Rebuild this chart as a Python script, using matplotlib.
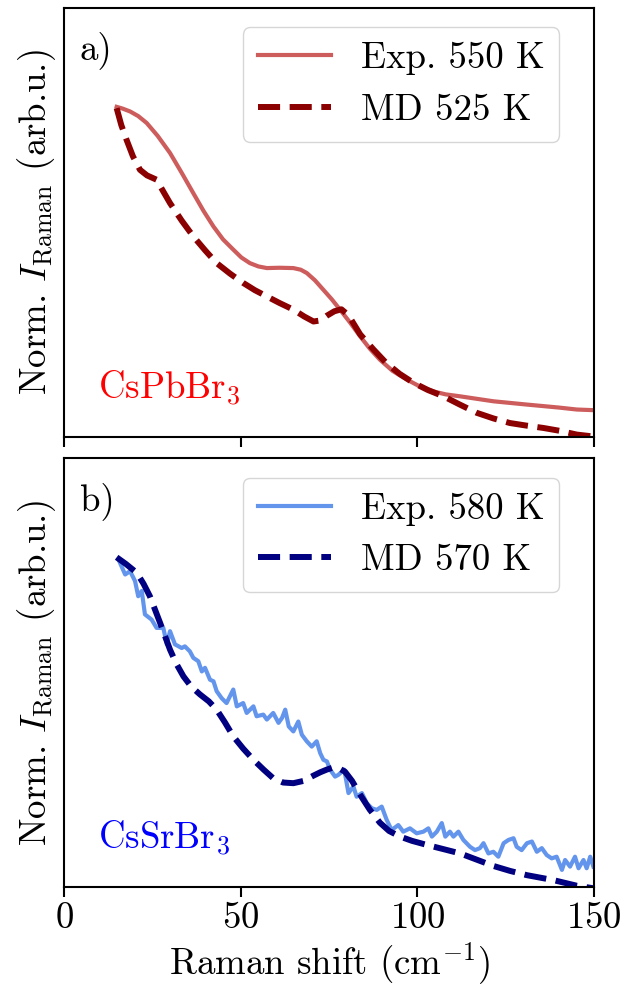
import numpy as np
import matplotlib
matplotlib.use("Agg")
import matplotlib.pyplot as plt

plt.rcParams['font.family'] = 'serif'
plt.rcParams['font.serif'] = ['cmr10']
plt.rcParams['mathtext.fontset'] = 'cm'
plt.rcParams['axes.formatter.use_mathtext'] = True
plt.rcParams['font.size'] = 26.5

# CsPbBr3 - experiment 550 K
x_pb_exp = [14.9, 16.5, 18.7, 21.0, 23.4, 26.5, 30.0, 33.3, 36.6, 39.5, 42.3, 45.0, 47.9,
            50.2, 52.6, 55.0, 57.4, 61.0, 64.9, 67.0, 68.7, 71.0, 73.4, 75.8, 78.1, 81.0,
            83.8, 86.5, 89.4, 93.0, 97.0, 100.5, 104.5, 108.0, 112.1, 121.5, 131.0, 140.0,
            145.1, 150.0]
y_pb_exp = [1.0, 0.995, 0.986, 0.972, 0.951, 0.912, 0.860, 0.800, 0.738, 0.684, 0.637, 0.598,
            0.567, 0.543, 0.526, 0.516, 0.511, 0.512, 0.511, 0.506, 0.496, 0.474, 0.445, 0.416,
            0.385, 0.345, 0.304, 0.267, 0.233, 0.199, 0.173, 0.153, 0.137, 0.128, 0.122, 0.107,
            0.097, 0.088, 0.082, 0.080]

# CsPbBr3 - MD 525 K
x_pb_md = [14.9, 16.2, 17.7, 19.5, 21.5, 23.5, 26.2, 28.0, 30.0, 33.3, 36.6, 40.0, 43.2,
           47.0, 50.7, 54.0, 57.4, 61.0, 64.9, 68.0, 70.6, 72.5, 74.3, 76.5, 78.5, 80.5,
           83.8, 87.5, 91.2, 95.0, 98.9, 103.0, 107.4, 112.0, 116.8, 121.5, 126.2, 131.0,
           135.7, 140.5, 145.1, 150.0]
y_pb_md = [0.996, 0.945, 0.900, 0.850, 0.809, 0.792, 0.779, 0.745, 0.708, 0.655, 0.607, 0.564,
           0.526, 0.494, 0.466, 0.444, 0.425, 0.405, 0.385, 0.364, 0.349, 0.352, 0.366, 0.380,
           0.386, 0.368, 0.310, 0.265, 0.223, 0.190, 0.163, 0.141, 0.122, 0.097, 0.072, 0.055,
           0.041, 0.033, 0.026, 0.017, 0.006, 0.0]

# CsSrBr3 - experiment 580 K
x_sr_exp = [15.4, 17.3, 18.7, 20.1, 21.0, 22.0, 22.9, 24.8, 26.2, 28.1, 29.1, 30.0, 31.4,
            33.3, 34.2, 35.6, 36.6, 38.0, 39.0, 39.9, 41.3, 42.3, 43.2, 44.6, 46.0, 47.9,
            48.9, 50.7, 51.7, 53.6, 54.5, 56.4, 57.4, 59.2, 60.7, 61.7, 62.6, 63.6, 64.9,
            66.3, 67.3, 68.7, 70.1, 71.5, 72.5, 73.4, 74.4, 75.3, 76.7, 77.6, 79.3, 80.5,
            81.9, 82.8, 84.3, 85.7, 87.1, 88.5, 89.9, 91.3, 92.7, 94.6, 96.0, 97.9, 99.8,
            101.7, 103.1, 104.1, 105.5, 106.9, 107.9, 109.2, 110.2, 111.6, 113.0, 114.9,
            116.3, 117.7, 118.7, 120.1, 121.5, 122.9, 124.4, 125.8, 127.2, 128.1, 129.5,
            131.0, 132.4, 133.8, 135.2, 136.6, 138.0, 139.4, 140.9, 141.8, 143.2, 144.6,
            145.6, 147.0, 147.9, 148.9, 149.8]
y_sr_exp = [0.994, 0.948, 0.958, 0.928, 0.882, 0.898, 0.827, 0.811, 0.786, 0.786, 0.736, 0.776,
            0.736, 0.725, 0.730, 0.715, 0.695, 0.685, 0.654, 0.665, 0.629, 0.624, 0.594, 0.573,
            0.558, 0.599, 0.548, 0.558, 0.528, 0.548, 0.518, 0.523, 0.508, 0.528, 0.498, 0.513,
            0.538, 0.487, 0.472, 0.502, 0.462, 0.442, 0.426, 0.442, 0.406, 0.386, 0.381, 0.356,
            0.335, 0.340, 0.356, 0.285, 0.305, 0.274, 0.285, 0.254, 0.239, 0.234, 0.244, 0.204,
            0.173, 0.188, 0.168, 0.178, 0.163, 0.168, 0.178, 0.153, 0.168, 0.194, 0.153, 0.168,
            0.153, 0.168, 0.143, 0.122, 0.112, 0.118, 0.133, 0.102, 0.107, 0.092, 0.133, 0.143,
            0.148, 0.122, 0.112, 0.133, 0.138, 0.107, 0.118, 0.097, 0.087, 0.092, 0.052, 0.082,
            0.062, 0.092, 0.057, 0.082, 0.057, 0.092, 0.062]

# CsSrBr3 - MD 570 K
x_sr_md = [14.9, 17.5, 20.6, 22.5, 24.3, 27.2, 30.0, 31.8, 33.8, 36.0, 38.5, 41.0, 43.2,
           45.5, 47.9, 50.7, 53.6, 56.5, 59.2, 62.0, 64.9, 67.8, 70.6, 72.5, 74.3, 76.0,
           77.5, 79.5, 81.5, 83.8, 86.5, 89.4, 92.0, 95.1, 98.5, 102.6, 107.0, 112.1, 116.8,
           121.5, 126.2, 131.0, 135.0, 138.5, 142.0, 145.1, 150.0]
y_sr_md = [1.0, 0.980, 0.953, 0.920, 0.882, 0.801, 0.720, 0.677, 0.639, 0.608, 0.584, 0.563,
           0.538, 0.500, 0.457, 0.420, 0.386, 0.356, 0.330, 0.317, 0.315, 0.322, 0.338, 0.348,
           0.356, 0.362, 0.362, 0.350, 0.322, 0.280, 0.235, 0.195, 0.170, 0.153, 0.140, 0.128,
           0.116, 0.102, 0.083, 0.064, 0.049, 0.036, 0.028, 0.021, 0.012, 0.004, -0.004]

fig, (ax1, ax2) = plt.subplots(2, 1, figsize=(6.3, 9.92), dpi=100, sharex=True)
fig.subplots_adjust(left=0.1016, right=0.943, top=0.992, bottom=0.1058, hspace=0.051)

ax1.plot(x_pb_exp, y_pb_exp, color='indianred', lw=3, label='Exp. 550 K')
ax1.plot(x_pb_md, y_pb_md, color='darkred', lw=4.3, ls='--', label='MD 525 K')
ax2.plot(x_sr_exp, y_sr_exp, color='cornflowerblue', lw=3, label='Exp. 580 K')
ax2.plot(x_sr_md, y_sr_md, color='navy', lw=4.3, ls='--', label='MD 570 K')

for ax, lab, mat, col in [(ax1, 'a)', r'CsPbBr$_3$', 'red'), (ax2, 'b)', r'CsSrBr$_3$', 'blue')]:
    ax.set_xlim(0, 150)
    ax.set_ylim(0, 1.3)
    ax.set_yticks([])
    ax.set_ylabel(r'Norm. $I_\mathrm{Raman}$ (arb.u.)')
    ax.tick_params(axis='x', length=7, width=1.5, direction='out')
    for s in ax.spines.values():
        s.set_linewidth(1.5)
    ax.text(0.03, 0.945, lab, transform=ax.transAxes, va='top', ha='left')
    ax.text(0.064, 0.088, mat, transform=ax.transAxes, va='baseline', ha='left', color=col)
    ax.legend(loc='upper right', bbox_to_anchor=(0.934, 0.955), borderaxespad=0)

ax2.set_xticks([0, 50, 100, 150])
ax2.set_xlabel(r'Raman shift (cm$^{-1}$)')

plt.savefig('out.png')
